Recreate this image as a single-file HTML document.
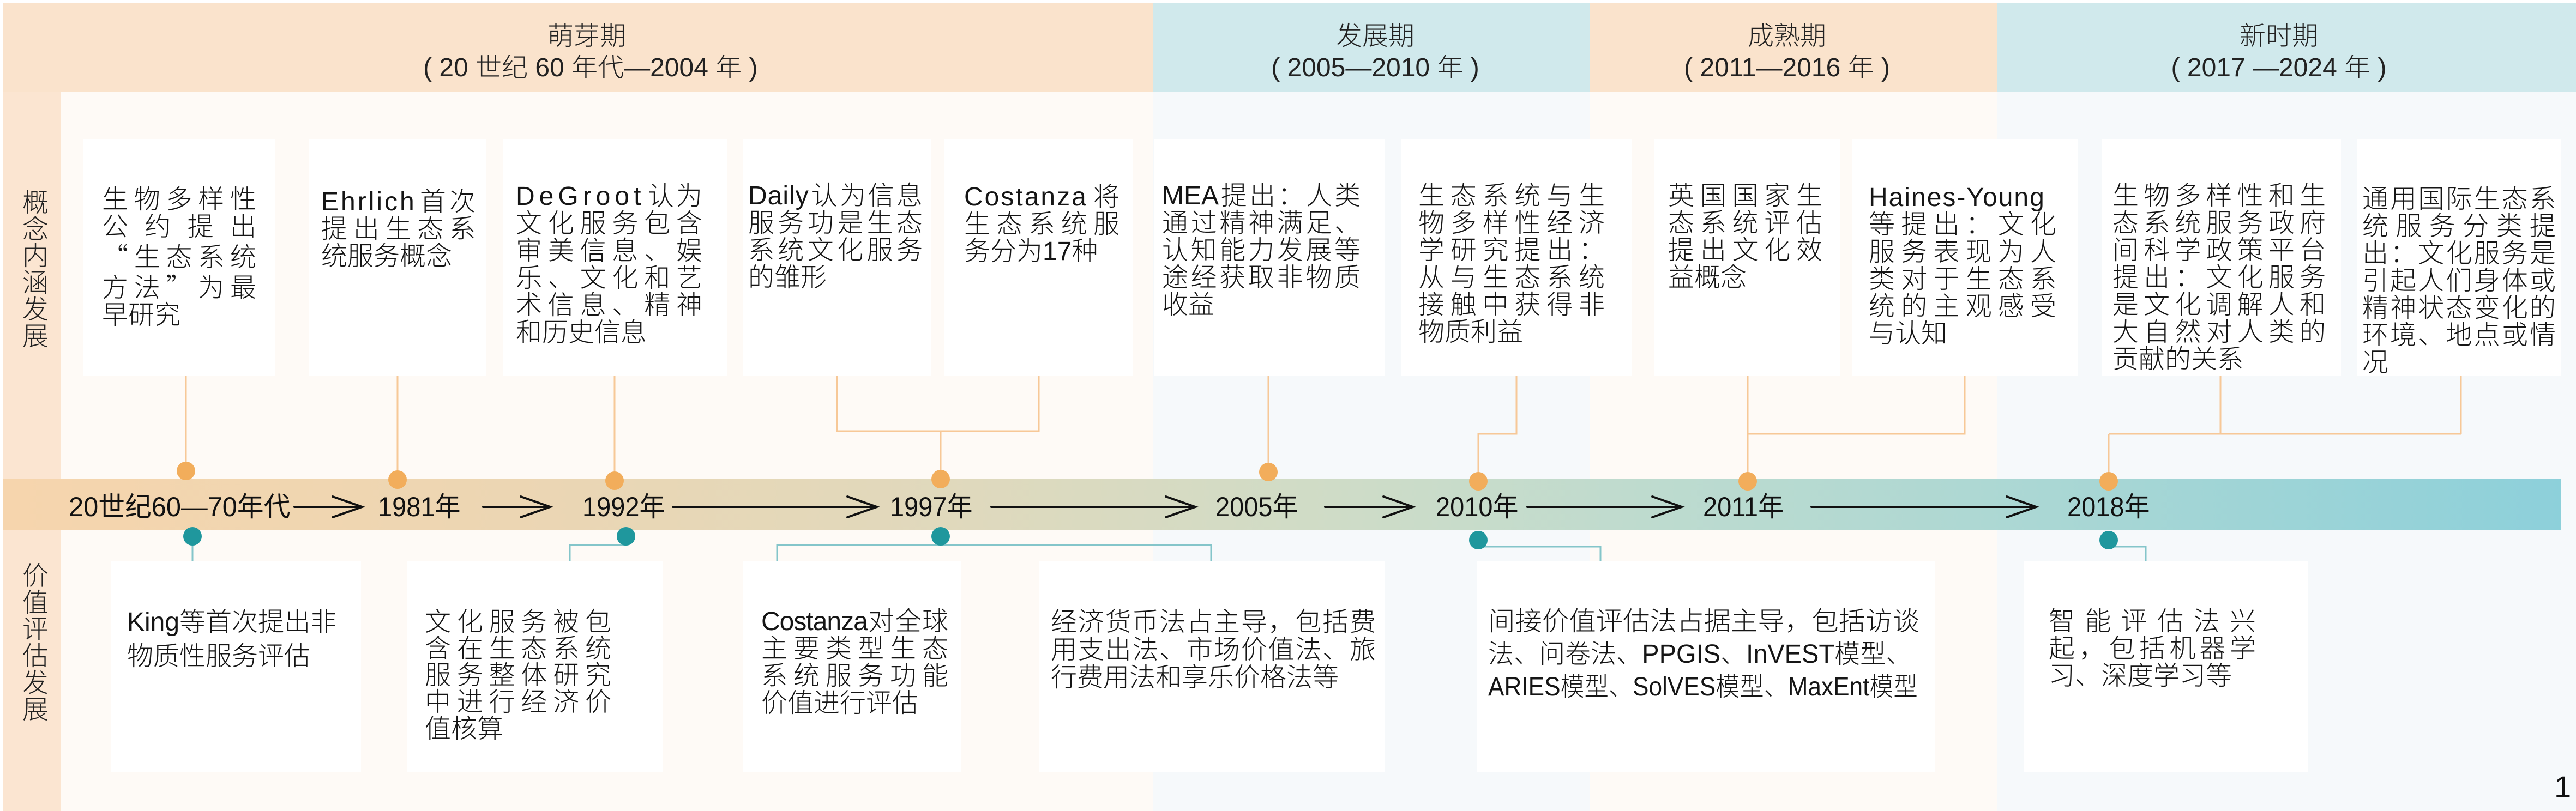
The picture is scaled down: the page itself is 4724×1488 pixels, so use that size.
<!DOCTYPE html>
<html><head><meta charset="utf-8">
<style>
html,body{margin:0;padding:0}
body{width:4724px;height:1488px;position:relative;overflow:hidden;background:#fff;font-family:"Liberation Sans","Noto Sans CJK SC",sans-serif;color:#151515}
.a{position:absolute}
.box{position:absolute;background:#fff}
.tb{position:absolute;font-size:48px;line-height:50px;font-weight:300}
.tb div{white-space:normal}
.tb .j{text-align:justify;text-align-last:justify}
.tb .l{white-space:nowrap;text-align:left}
.tb .l span{white-space:nowrap}
.hd{position:absolute;top:38px;font-size:48px;line-height:58px;text-align:center;white-space:nowrap;color:#222;font-weight:300}
.lab{position:absolute;top:900px;height:60px;line-height:60px;font-size:50px;white-space:nowrap;transform-origin:0 50%;color:#111}
.vt{position:absolute;left:41px;width:48px;font-size:48px;line-height:49px;text-align:center;color:#222;font-weight:300}
.q{font-family:"Noto Sans CJK SC",sans-serif}
</style></head><body>

<!-- content backgrounds -->
<div class="a" style="left:112px;top:168px;width:2002px;height:1320px;background:#fefaf6"></div>
<div class="a" style="left:2114px;top:168px;width:801px;height:1320px;background:#f6f9fb"></div>
<div class="a" style="left:2915px;top:168px;width:748px;height:1320px;background:#fefaf6"></div>
<div class="a" style="left:3663px;top:168px;width:1061px;height:1320px;background:#f6f9fb"></div>

<!-- header -->
<div class="a" style="left:6px;top:5px;width:2108px;height:163px;background:#fae3cc"></div>
<div class="a" style="left:2114px;top:5px;width:801px;height:163px;background:#d0e9ec"></div>
<div class="a" style="left:2915px;top:5px;width:748px;height:163px;background:#fae3cc"></div>
<div class="a" style="left:3663px;top:5px;width:1061px;height:163px;background:#d0e9ec"></div>
<!-- left strip -->
<div class="a" style="left:6px;top:168px;width:106px;height:1320px;background:#fbe5d1"></div>

<div class="hd" style="left:776px;width:600px">萌芽期<br>( 20 世纪 60 年代—2004 年 )</div>
<div class="hd" style="left:2222px;width:600px">发展期<br>( 2005—2010 年 )</div>
<div class="hd" style="left:2977px;width:600px">成熟期<br>( 2011—2016 年 )</div>
<div class="hd" style="left:3879px;width:600px">新时期<br>( 2017 —2024 年 )</div>

<div class="vt" style="top:348px">概<br>念<br>内<br>涵<br>发<br>展</div>
<div class="vt" style="top:1033px">价<br>值<br>评<br>估<br>发<br>展</div>

<!-- timeline band -->
<div class="a" style="left:5px;top:878px;width:4692px;height:94px;background:linear-gradient(90deg,#f6d5ad 0%,#ecd6b3 20%,#dfd9bd 38%,#cfdcc7 52%,#bddbcf 65%,#aad7d4 80%,#8dd0da 100%)"></div>

<svg class="a" style="left:0;top:0" width="4724" height="1488" viewBox="0 0 4724 1488">
<g fill="none" stroke="#f7c897" stroke-width="3">
<path d="M341 690V864"/>
<path d="M729 690V880"/>
<path d="M1127 690V882"/>
<path d="M1535 690V791H1905V690M1725 791V879"/>
<path d="M2326 690V866"/>
<path d="M2781 690V796H2711V883"/>
<path d="M3205 690V883M3205 796H3603V690"/>
<path d="M4072 690V796M4513 690V796M3867 796H4513M3867 796V883"/>
</g>
<g fill="none" stroke="#84c5ca" stroke-width="3">
<path d="M353 984V1030"/>
<path d="M1148 1000H1045V1030"/>
<path d="M1425 1030V1000H2221V1030"/>
<path d="M2711 1003H2935V1030"/>
<path d="M3867 1003H3935V1030"/>
</g>
<g fill="#f2ad5b">
<circle cx="341" cy="864" r="17"/>
<circle cx="729" cy="880" r="17"/>
<circle cx="1127" cy="882" r="17"/>
<circle cx="1725" cy="879" r="17"/>
<circle cx="2326" cy="866" r="17"/>
<circle cx="2711" cy="883" r="17"/>
<circle cx="3205" cy="883" r="17"/>
<circle cx="3867" cy="883" r="17"/>
</g>
<g fill="#1f979d">
<circle cx="353" cy="984" r="17"/>
<circle cx="1148" cy="984" r="17"/>
<circle cx="1725" cy="984" r="17"/>
<circle cx="2711" cy="991" r="17"/>
<circle cx="3867" cy="991" r="17"/>
</g>
<g fill="none" stroke="#111" stroke-width="4" stroke-linecap="round" stroke-linejoin="miter">
<path d="M540 930H662M610 911L664 930L610 949"/>
<path d="M886 930H1007M955 911L1009 930L955 949"/>
<path d="M1234 930H1606M1554 911L1608 930L1554 949"/>
<path d="M1818 930H2190M2138 911L2192 930L2138 949"/>
<path d="M2430 930H2589M2537 911L2591 930L2537 949"/>
<path d="M2801 930H3082M3030 911L3084 930L3030 949"/>
<path d="M3322 930H3732M3680 911L3734 930L3680 949"/>
</g>
</svg>

<!-- band labels -->
<div class="lab" style="left:126px;transform:scaleX(0.975)">20世纪60—70年代</div>
<div class="lab" style="left:693px;transform:scaleX(0.94)">1981年</div>
<div class="lab" style="left:1068px;transform:scaleX(0.94)">1992年</div>
<div class="lab" style="left:1632px;transform:scaleX(0.94)">1997年</div>
<div class="lab" style="left:2229px;transform:scaleX(0.94)">2005年</div>
<div class="lab" style="left:2633px;transform:scaleX(0.94)">2010年</div>
<div class="lab" style="left:3123px;transform:scaleX(0.94)">2011年</div>
<div class="lab" style="left:3791px;transform:scaleX(0.94)">2018年</div>

<!-- top boxes -->
<div class="box" style="left:153px;top:255px;width:352px;height:435px"></div>
<div class="box" style="left:566px;top:255px;width:325px;height:435px"></div>
<div class="box" style="left:922px;top:255px;width:412px;height:435px"></div>
<div class="box" style="left:1362px;top:255px;width:345px;height:435px"></div>
<div class="box" style="left:1732px;top:255px;width:345px;height:435px"></div>
<div class="box" style="left:2116px;top:255px;width:423px;height:435px"></div>
<div class="box" style="left:2569px;top:255px;width:424px;height:435px"></div>
<div class="box" style="left:3033px;top:255px;width:342px;height:435px"></div>
<div class="box" style="left:3396px;top:255px;width:414px;height:435px"></div>
<div class="box" style="left:3854px;top:255px;width:439px;height:435px"></div>
<div class="box" style="left:4323px;top:255px;width:374px;height:435px"></div>

<!-- bottom boxes -->
<div class="box" style="left:203px;top:1030px;width:459px;height:387px"></div>
<div class="box" style="left:746px;top:1030px;width:469px;height:387px"></div>
<div class="box" style="left:1362px;top:1030px;width:400px;height:387px"></div>
<div class="box" style="left:1906px;top:1030px;width:633px;height:387px"></div>
<div class="box" style="left:2708px;top:1030px;width:841px;height:387px"></div>
<div class="box" style="left:3712px;top:1030px;width:520px;height:387px"></div>

<!-- top texts -->
<div class="tb" style="left:187px;top:342px;width:283px">
<div class="j">生物多样性</div><div class="j">公约提出</div><div class="j"><span class="q">“</span>生态系统</div><div class="j">方法<span class="q">”</span>为最</div><div class="l">早研究</div>
</div>
<div class="tb" style="left:589px;top:346px;width:283px">
<div class="j"><span style="letter-spacing:4px">Ehrlich</span>首次</div><div class="j">提出生态系</div><div class="l">统服务概念</div>
</div>
<div class="tb" style="left:946px;top:336px;width:342px">
<div class="j"><span style="letter-spacing:8px">DeGroot</span>认为</div><div class="j">文化服务包含</div><div class="j">审美信息、娱</div><div class="j">乐、文化和艺</div><div class="j">术信息、精神</div><div class="l">和历史信息</div>
</div>
<div class="tb" style="left:1372px;top:335px;width:320px">
<div class="j"><span style="letter-spacing:1px">Daily</span>认为信息</div><div class="j">服务功是生态</div><div class="j">系统文化服务</div><div class="l">的雏形</div>
</div>
<div class="tb" style="left:1768px;top:337px;width:285px">
<div class="j"><span style="letter-spacing:3px">Costanza</span>将</div><div class="j">生态系统服</div><div class="l">务分为17种</div>
</div>
<div class="tb" style="left:2131px;top:335px;width:364px">
<div class="j">MEA提出：人类</div><div class="j">通过精神满足、</div><div class="j">认知能力发展等</div><div class="j">途经获取非物质</div><div class="l">收益</div>
</div>
<div class="tb" style="left:2601px;top:335px;width:342px">
<div class="j">生态系统与生</div><div class="j">物多样性经济</div><div class="j">学研究提出：</div><div class="j">从与生态系统</div><div class="j">接触中获得非</div><div class="l">物质利益</div>
</div>
<div class="tb" style="left:3059px;top:335px;width:283px">
<div class="j">英国国家生</div><div class="j">态系统评估</div><div class="j">提出文化效</div><div class="l">益概念</div>
</div>
<div class="tb" style="left:3427px;top:338px;width:344px">
<div class="j" style="letter-spacing:2px">Haines-Young</div><div class="j">等提出：文化</div><div class="j">服务表现为人</div><div class="j">类对于生态系</div><div class="j">统的主观感受</div><div class="l">与认知</div>
</div>
<div class="tb" style="left:3874px;top:335px;width:391px">
<div class="j">生物多样性和生</div><div class="j">态系统服务政府</div><div class="j">间科学政策平台</div><div class="j">提出：文化服务</div><div class="j">是文化调解人和</div><div class="j">大自然对人类的</div><div class="l">贡献的关系</div>
</div>
<div class="tb" style="left:4332px;top:341px;width:355px">
<div class="j">通用国际生态系</div><div class="j">统服务分类提</div><div class="j">出：文化服务是</div><div class="j">引起人们身体或</div><div class="j">精神状态变化的</div><div class="j">环境、地点或情</div><div class="l">况</div>
</div>

<!-- bottom texts -->
<div class="tb" style="left:233px;top:1110px;width:420px;line-height:63px">
<div class="l">King等首次提出非</div><div class="l">物质性服务评估</div>
</div>
<div class="tb" style="left:779px;top:1117px;width:342px;line-height:49px">
<div class="j">文化服务被包</div><div class="j">含在生态系统</div><div class="j">服务整体研究</div><div class="j">中进行经济价</div><div class="l">值核算</div>
</div>
<div class="tb" style="left:1396px;top:1116px;width:343px">
<div class="j"><span style="letter-spacing:-1px">Costanza</span>对全球</div><div class="j">主要类型生态</div><div class="j">系统服务功能</div><div class="l">价值进行评估</div>
</div>
<div class="tb" style="left:1927px;top:1116px;width:596px;line-height:51px">
<div class="j">经济货币法占主导，包括费</div><div class="j">用支出法、市场价值法、旅</div><div class="l">行费用法和享乐价格法等</div>
</div>
<div class="tb" style="left:2729px;top:1111px;width:796px;line-height:60px">
<div class="l"><span style="display:inline-block;transform:scaleX(1.03);transform-origin:0 50%">间接价值评估法占据主导，包括访谈</span></div>
<div class="l"><span style="display:inline-block;transform:scaleX(0.98);transform-origin:0 50%">法、问卷法、PPGIS、InVEST模型、</span></div>
<div class="l"><span style="display:inline-block;transform:scaleX(0.92);transform-origin:0 50%">ARIES模型、SolVES模型、MaxEnt模型</span></div>
</div>
<div class="tb" style="left:3757px;top:1116px;width:380px">
<div class="j">智能评估法兴</div><div class="j">起，包括机器学</div><div class="l">习、深度学习等</div>
</div>

<div class="a" style="left:4684px;top:1416px;font-size:56px;line-height:56px;color:#111">1</div>

</body></html>
